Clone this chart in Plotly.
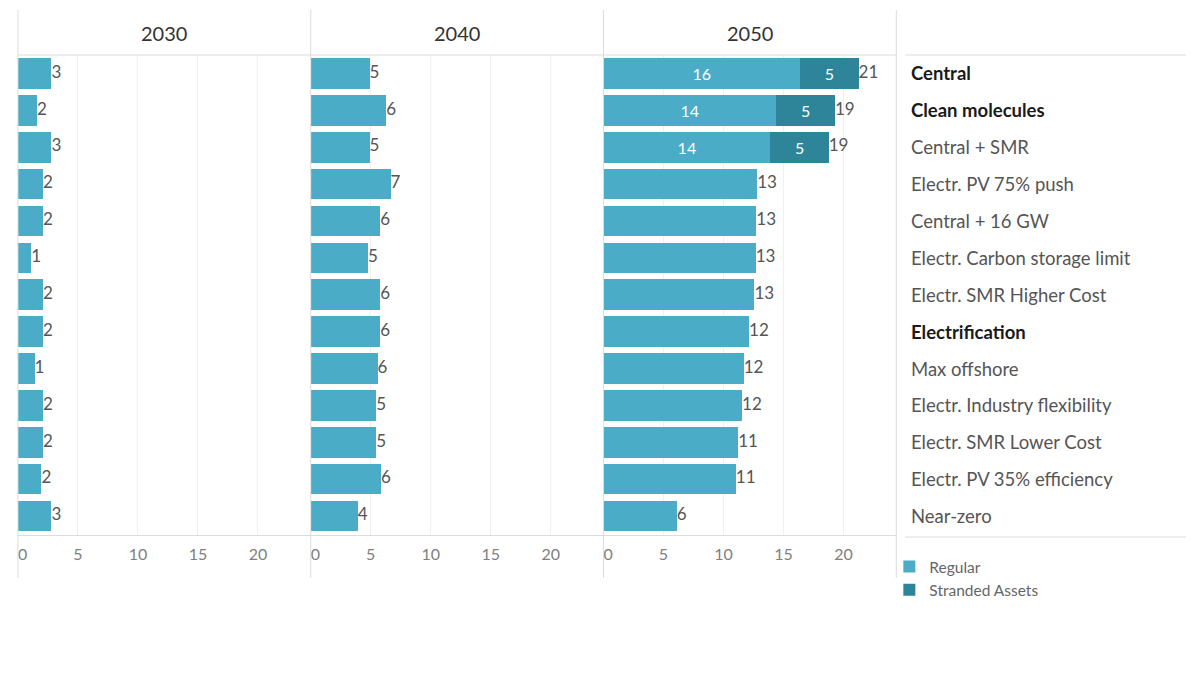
import plotly.graph_objects as go


scenarios = [
    "Central", "Clean molecules", "Central + SMR", "Electr. PV 75% push",
    "Central + 16 GW", "Electr. Carbon storage limit", "Electr. SMR Higher Cost",
    "Electrification", "Max offshore", "Electr. Industry flexibility",
    "Electr. SMR Lower Cost", "Electr. PV 35% efficiency", "Near-zero",
]
bold_scenarios = ["Central", "Clean molecules", "Electrification"]
years = ["2030", "2040", "2050"]

regular_2030 = [2.79, 1.58, 2.79, 2.09, 2.09, 1.11, 2.09, 2.09, 1.39, 2.09, 2.09, 1.96, 2.79]
regular_2040 = [4.90, 6.30, 4.90, 6.65, 5.79, 4.78, 5.79, 5.79, 5.57, 5.47, 5.47, 5.85, 3.92]
regular_2050 = [16.39, 14.39, 13.90, 12.81, 12.74, 12.68, 12.58, 12.13, 11.68, 11.55, 11.23, 11.03, 6.10]
stranded_2050 = [4.87, 4.90, 4.87, 0, 0, 0, 0, 0, 0, 0, 0, 0, 0]

x_ticks = [0, 5, 10, 15, 20]
# the "0" label sits a little right of its gridline, as in the original
x_tick_text = ["\u20070", "5", "10", "15", "20"]

REGULAR = "#4aacc6"
STRANDED = "#2e8599"
LINE = "#dcdcdc"
FONT = "Lato"

W, H = 1200, 686


def px(x):
    return x / W


def py(y):
    return 1 - y / H


panels = [(9, 304), (304, 599), (599, 894)]
top, bottom = 55, 534.5

regular = {"2030": regular_2030, "2040": regular_2040, "2050": regular_2050}
stranded = {"2050": stranded_2050}

fig = go.Figure()

for i, year in enumerate(years):
    n = "" if i == 0 else str(i + 1)
    reg = regular[year]
    strd = stranded.get(year, [0] * len(reg))
    inside = [f"{r:.0f}" if s > 0 else "" for r, s in zip(reg, strd)]

    fig.add_trace(go.Bar(
        x=reg, y=scenarios, orientation="h",
        xaxis="x" + n, yaxis="y" + n,
        marker=dict(color=REGULAR, line=dict(width=0)),
        width=0.83, name="Regular", legendgroup="Regular",
        showlegend=(year == "2050"),
        text=inside, textposition="inside", insidetextanchor="middle",
        textfont=dict(family=FONT, size=16, color="white"),
        hoverinfo="skip",
    ))
    if year in stranded:
        fig.add_trace(go.Bar(
            x=strd, y=scenarios, orientation="h",
            xaxis="x" + n, yaxis="y" + n,
            marker=dict(color=STRANDED, line=dict(width=0)),
            width=0.83, name="Stranded Assets", legendgroup="Stranded",
            text=[f"{s:.0f}" if s > 0 else "" for s in strd],
            textposition="inside", insidetextanchor="middle",
            textfont=dict(family=FONT, size=16, color="white"),
            hoverinfo="skip",
        ))

    totals = [r + s for r, s in zip(reg, strd)]
    fig.add_trace(go.Scatter(
        x=totals, y=scenarios, xaxis="x" + n, yaxis="y" + n,
        mode="text", text=[f"{t:.0f}" for t in totals],
        textposition="middle right",
        textfont=dict(family=FONT, size=17, color="#555555"),
        showlegend=False, cliponaxis=False, hoverinfo="skip",
    ))

    x0, x1 = panels[i]
    fig.update_layout({
        "xaxis" + n: dict(
            domain=[px(x0), px(x1)], range=[0, 24.4], anchor="y" + n,
            tickvals=x_ticks, ticktext=x_tick_text,
            showgrid=True, gridcolor="#f0f0f0",
            zeroline=False, showline=True, linecolor=LINE,
            ticks="outside", ticklen=5, tickcolor="rgba(0,0,0,0)",
            tickfont=dict(family=FONT, size=16, color="#808080"),
        ),
        "yaxis" + n: dict(
            domain=[py(bottom), py(top)], anchor="x" + n,
            categoryorder="array", categoryarray=scenarios,
            range=[len(scenarios) - 0.5, -0.5], autorange=False,
            showticklabels=False, showgrid=False, zeroline=False,
        ),
    })

    fig.add_annotation(
        x=px((x0 + x1) / 2), y=py(33), xref="paper", yref="paper",
        xanchor="center", yanchor="middle",
        text=year, showarrow=False,
        font=dict(family=FONT, size=20, color="#333333"),
    )

for name in scenarios:
    is_bold = name in bold_scenarios
    fig.add_annotation(
        x=px(907), y=name, xref="paper", yref="y3",
        xanchor="left", yanchor="middle",
        text=f"<b>{name}</b>" if is_bold else name,
        showarrow=False,
        font=dict(family=FONT, size=18.5, color="#1a1a1a" if is_bold else "#555555"),
    )

shapes = []
for x in [9, 304, 599, 894]:
    shapes.append(dict(type="line", xref="paper", yref="paper",
                       x0=px(x), x1=px(x), y0=py(10), y1=py(578),
                       line=dict(color=LINE, width=1)))
shapes.append(dict(type="line", xref="paper", yref="paper",
                   x0=px(9), x1=px(894), y0=py(55), y1=py(55),
                   line=dict(color=LINE, width=1)))
for y in [55, 537]:
    shapes.append(dict(type="line", xref="paper", yref="paper",
                       x0=px(903), x1=px(1186), y0=py(y), y1=py(y),
                       line=dict(color=LINE, width=1)))

fig.update_layout(
    width=W, height=H,
    margin=dict(l=0, r=0, t=0, b=0),
    barmode="stack",
    plot_bgcolor="white", paper_bgcolor="white",
    font=dict(family=FONT),
    shapes=shapes,
    legend=dict(
        x=px(887), y=py(550), xanchor="left", yanchor="top",
        traceorder="normal", bgcolor="rgba(0,0,0,0)",
        font=dict(family=FONT, size=15.5, color="#666666"),
        tracegroupgap=0,
    ),
)

fig.write_html(
    "out.html",
    config={"displayModeBar": False},
    post_script="document.body.style.margin='0';",
)
